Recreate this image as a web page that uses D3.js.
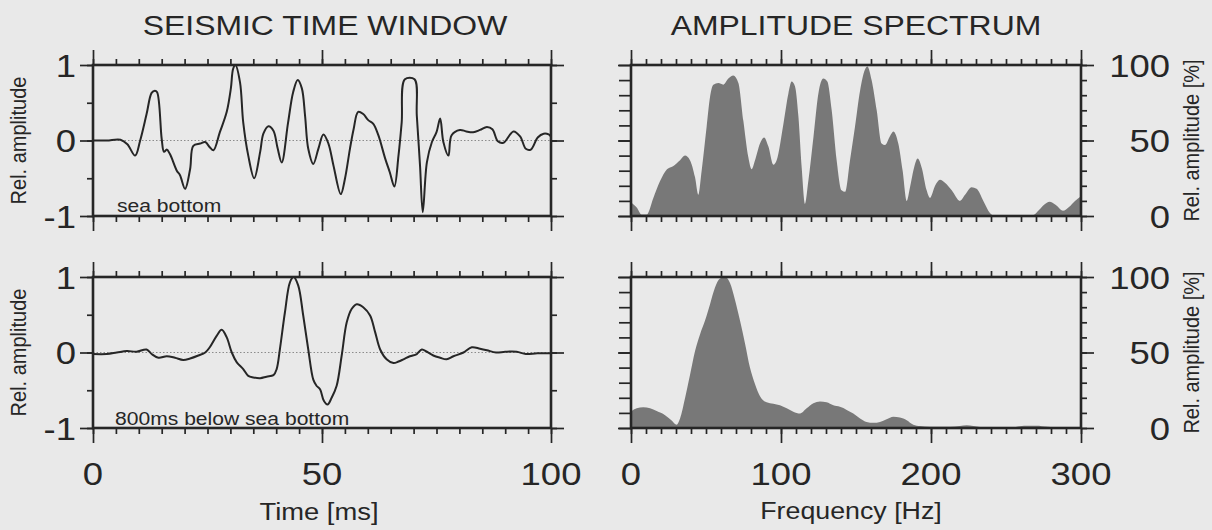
<!DOCTYPE html>
<html>
<head>
<meta charset="utf-8">
<script src="https://cdn.jsdelivr.net/npm/d3@7"></script>
<style>
  body { margin: 0; background: #e9e9e9; }
  svg { display: block; }
  text { font-family: "Liberation Sans", Arial, Helvetica, sans-serif; fill: #262626; }
</style>
</head>
<body>
<svg id="chart" width="1212" height="530"></svg>
<script>
// seismic trace at the sea bottom (time ms, relative amplitude)
const seaTime = [0, 3, 6, 7.5, 9.2, 10.3, 11.7, 12.8, 13.5, 14.0, 15.0, 15.5, 16.1, 16.8, 18.3, 19.0, 20.1, 21.2, 21.9, 23.4,
  24.5, 25.5, 26.3, 27.7, 29.2, 30.1, 30.6, 31.1, 32.1, 32.8, 33.9, 35.2, 36.5, 37.2, 38.3, 39.4, 40.3, 41.2, 42.6, 43.7,
  44.7, 45.6, 46.3, 47.0, 48.1, 49.2, 50.3, 51.4, 52.5, 54.1, 55.0, 56.1, 56.9, 57.9, 59.0, 60.1, 61.2, 62.3, 63.8, 64.8,
  65.8, 66.7, 67.4, 68.1, 70.2, 70.7, 71.4, 72.0, 72.9, 74.0, 75.0, 75.8, 76.5, 77.6, 78.3, 80.1, 81.5, 83.0, 84.5, 86.0,
  87.2, 88.4, 89.6, 91.8, 93.3, 94.5, 95.6, 97.1, 98.4, 99.5, 100];
const seaAmp = [0, 0, 0.01, -0.05, -0.2, 0, 0.35, 0.63, 0.66, 0.64, 0.02, -0.15, -0.12, -0.18, -0.4, -0.46, -0.64, -0.38, -0.07, -0.04,
  -0.02, -0.09, -0.13, 0.11, 0.38, 0.69, 0.95, 1.0, 0.77, 0.24, -0.2, -0.5, -0.15, 0.09, 0.19, 0.13, -0.1, -0.29, 0.24, 0.64,
  0.80, 0.69, 0.33, -0.11, -0.31, -0.11, 0.08, -0.04, -0.33, -0.71, -0.51, -0.11, 0.15, 0.38, 0.35, 0.27, 0.22, 0.07, -0.24, -0.42,
  -0.61, -0.2, 0.24, 0.81, 0.81, 0.33, -0.33, -0.95, -0.29, -0.02, 0.11, 0.29, -0.02, -0.2, 0.07, 0.14, 0.12, 0.11, 0.14, 0.18,
  0.15, -0.01, -0.03, 0.12, 0.05, -0.11, -0.12, 0.04, 0.09, 0.08, 0.05];

// seismic trace 800 ms below the sea bottom
const deepTime = [0, 3.0, 5.2, 7.4, 9.5, 11.7, 12.8, 14.3, 16.1, 17.9, 19.7, 21.2, 23.0, 24.5, 25.5, 27.0, 28.1, 29.2, 30.3, 31.4,
  32.8, 33.9, 35.0, 36.5, 37.9, 39.4, 40.1, 40.8, 41.9, 43.0, 43.8, 44.8, 45.9, 47.0, 48.1, 48.8, 49.6, 50.4, 51.2, 52.1,
  53.2, 54.3, 55.4, 56.5, 57.6, 59.0, 60.5, 61.6, 62.7, 64.1, 65.6, 66.7, 67.8, 69.2, 70.7, 71.8, 72.9, 74.3, 75.8, 77.2,
  78.7, 80.9, 82.7, 84.5, 86.0, 88.0, 90.0, 92.5, 94.5, 97.0, 100];
const deepAmp = [-0.02, -0.02, 0, 0.02, 0.01, 0.04, -0.02, -0.07, -0.05, -0.07, -0.10, -0.08, -0.04, 0, 0.07, 0.22, 0.30, 0.2, 0, -0.13,
  -0.22, -0.31, -0.33, -0.34, -0.32, -0.30, -0.22, 0.04, 0.53, 0.93, 1.0, 0.89, 0.49, 0.04, -0.36, -0.44, -0.49, -0.64, -0.69, -0.6,
  -0.44, -0.04, 0.4, 0.58, 0.64, 0.6, 0.49, 0.27, 0.04, -0.09, -0.14, -0.12, -0.09, -0.05, -0.02, 0.04, 0.01, -0.04, -0.07, -0.09,
  -0.05, 0, 0.07, 0.05, 0.03, 0, 0.01, 0.01, -0.02, -0.01, -0.01];

// amplitude spectrum at the sea bottom (Hz, %)
const seaFreq = [0, 3.8, 7.1, 10.4, 14.9, 19.3, 24, 28, 32.7, 36, 39.3, 42.7, 44.9, 47.1, 50.4, 52.7, 54.9, 58.2, 61.6, 64.9,
  68.2, 71.6, 74.9, 78.2, 80.4, 82.7, 86, 88.7, 91.6, 94.9, 97.1, 101.6, 104.9, 107.1, 109.3, 111.6, 113.8, 116, 118.2, 121.6,
  124.9, 128.2, 130.9, 133.8, 137.1, 140.4, 142.7, 146, 149.3, 152.7, 156, 157.6, 160.4, 163.8, 167.1, 169.3, 172.7, 174.9, 178.2, 181.1,
  183.8, 186, 188.7, 191.1, 193.8, 197.1, 199.3, 202.7, 206, 209.3, 213.8, 219.3, 222.7, 227.1, 230.4, 234.9, 239.3, 242.7, 250, 260,
  268, 272, 276, 279, 283, 288, 292, 296, 300];
const seaSpec = [9, 5.6, 1, 1, 12, 23, 31, 33, 37, 40, 37, 25.6, 14, 30, 59, 79, 87, 88, 87, 91,
  93, 88, 63, 39, 31, 37, 48, 52, 46, 34, 37, 61, 81, 89, 86, 66, 32, 8, 23, 52,
  81, 91, 89, 70, 37, 17, 16, 37, 59, 83, 97, 99, 90, 70, 48, 47, 53, 56, 48, 30,
  10, 19, 32, 38, 32, 17, 12, 20, 24, 22, 17, 10, 14, 19, 18, 10, 2, 0, 0, 0,
  0.5, 4, 8, 9.5, 7.5, 3.5, 6, 10, 13];

// amplitude spectrum 800 ms below the sea bottom
const deepFreq = [0, 3.8, 8.2, 12.7, 17.1, 22.7, 27.1, 30.4, 32.7, 36, 39.3, 42.7, 46, 49.3, 52.7, 56, 59.3, 62.7, 66, 69.3,
  72.7, 76, 79.3, 82.7, 86, 90.4, 94.9, 99.3, 103.8, 108.2, 112.7, 117.1, 121.6, 126, 130.4, 134.9, 139.3, 143.8, 148.2, 152.7,
  157.1, 161.6, 166, 170.4, 174.9, 179.3, 183.8, 188.2, 192.7, 199.3, 206, 212.7, 219.3, 223.8, 228.2, 232.7, 237, 245, 255, 262,
  270, 278, 285, 300];
const deepSpec = [11, 13, 13.7, 13, 11.2, 8.5, 5, 2.2, 6.3, 19.7, 35, 51, 62, 71, 82, 93, 99, 100, 96, 85,
  71, 56, 40, 29, 21, 17, 16, 15, 13, 10.8, 9.6, 13, 16.4, 17.5, 17, 15, 14, 12, 9.6, 6.3,
  4, 3.4, 4, 5.8, 7.4, 7, 5.2, 2.2, 1.3, 0.9, 0.9, 0.9, 1.3, 1.8, 1.3, 0.7, 0.5, 0.3, 0.5, 1.5,
  1.5, 0.8, 0.3, 0.3];

const timeLabels = [0, 50, 100];
const ampLabels = [1, 0, -1];
const freqLabels = [0, 100, 200, 300];
const pctLabels = [100, 50, 0];

const W = 1212, H = 530;
const SX = 1.14;          // the scan is stretched sideways, so is the lettering
const ink = "#262626";

const svg = d3.select("#chart");
svg.append("rect").attr("width", W).attr("height", H).attr("fill", "#e9e9e9");

const xTime = d3.scaleLinear().domain([0, 100]).range([93, 551]);
const xFreq = d3.scaleLinear().domain([0, 300]).range([631, 1081]);
const rowTop = [65, 216], rowBot = [277, 428];
const yAmpTop = d3.scaleLinear().domain([-1, 1]).range([rowTop[1], rowTop[0]]);
const yAmpBot = d3.scaleLinear().domain([-1, 1]).range([rowBot[1], rowBot[0]]);
const yPctTop = d3.scaleLinear().domain([0, 100]).range([rowTop[1], rowTop[0]]);
const yPctBot = d3.scaleLinear().domain([0, 100]).range([rowBot[1], rowBot[0]]);

function label(str, x, y, size, anchor, rotate) {
  const t = rotate
    ? `translate(${x},${y}) rotate(-90) scale(1,${SX})`
    : `translate(${x},${y}) scale(${SX},1)`;
  return svg.append("text")
    .attr("transform", t)
    .attr("text-anchor", anchor || "middle")
    .attr("font-size", size)
    .text(str);
}

function tickRow(axisFn, scale, values, size, tr) {
  const g = svg.append("g").attr("transform", tr)
    .call(axisFn(scale).tickValues(values).tickSize(size).tickSizeOuter(0).tickFormat(""));
  g.select(".domain").remove();
  g.selectAll("line").attr("stroke", ink).attr("stroke-width", 1.7);
}

function frame(x, y, xMinor, xMajor, yMinor, yMajor, leftMinor) {
  const [x0, x1] = x.range();
  const y0 = y.range()[1], y1 = y.range()[0];
  tickRow(d3.axisTop, x, xMinor, 6, `translate(0,${y0})`);
  tickRow(d3.axisTop, x, xMajor, 15, `translate(0,${y0})`);
  tickRow(d3.axisBottom, x, xMinor, 6, `translate(0,${y1})`);
  tickRow(d3.axisBottom, x, xMajor, 15, `translate(0,${y1})`);
  tickRow(d3.axisLeft, y, yMinor, leftMinor, `translate(${x0},0)`);
  tickRow(d3.axisLeft, y, yMajor, 13, `translate(${x0},0)`);
  tickRow(d3.axisRight, y, yMinor, 6, `translate(${x1},0)`);
  tickRow(d3.axisRight, y, yMajor, 13, `translate(${x1},0)`);
  svg.append("rect")
    .attr("x", x0).attr("y", y0).attr("width", x1 - x0).attr("height", y1 - y0)
    .attr("fill", "none").attr("stroke", ink).attr("stroke-width", 2.6);
}

// time windows
[[yAmpTop, seaTime, seaAmp], [yAmpBot, deepTime, deepAmp]].forEach(([y, t, a]) => {
  svg.append("line")
    .attr("x1", xTime(0)).attr("x2", xTime(100)).attr("y1", y(0)).attr("y2", y(0))
    .attr("stroke", "#8c8c8c").attr("stroke-width", 1).attr("stroke-dasharray", "1.5,2");
  const line = d3.line().x(d => xTime(d[0])).y(d => y(d[1])).curve(d3.curveCatmullRom.alpha(0.5));
  svg.append("path").datum(d3.zip(t, a))
    .attr("d", line)
    .attr("fill", "none").attr("stroke", ink).attr("stroke-width", 2)
    .attr("stroke-linejoin", "round");
  frame(xTime, y, xTime.ticks(20), timeLabels, y.ticks(4), ampLabels, 6);
  ampLabels.forEach(v => label(v === -1 ? "-1" : String(v), 76, y(v), 32, "end").attr("dy", "0.36em"));
  label("Rel. amplitude", 26, (y.range()[0] + y.range()[1]) / 2, 20, "middle", true);
});

// spectra
[[yPctTop, seaFreq, seaSpec], [yPctBot, deepFreq, deepSpec]].forEach(([y, f, a]) => {
  const area = d3.area().x(d => xFreq(d[0])).y0(y(0)).y1(d => y(d[1])).curve(d3.curveMonotoneX);
  svg.append("path").datum(d3.zip(f, a))
    .attr("d", area)
    .attr("fill", "#787878");
  frame(xFreq, y, xFreq.ticks(30), freqLabels, y.ticks(10), pctLabels, 12);
  pctLabels.forEach(v => label(String(v), 1170, y(v), 32, "end").attr("dy", "0.36em"));
  label("Rel. amplitude [%]", 1199, (y.range()[0] + y.range()[1]) / 2, 20, "middle", true);
});

timeLabels.forEach(v => label(String(v), xTime(v), 485, 32));
freqLabels.forEach(v => label(String(v), xFreq(v), 485, 32));

label("SEISMIC TIME WINDOW", 325, 35, 28);
label("AMPLITUDE SPECTRUM", 856, 35, 28);
label("sea bottom", 117, 212, 18.5, "start");
label("800ms below sea bottom", 115, 425, 18.5, "start");
label("Time [ms]", 319, 520, 24);
label("Frequency [Hz]", 851, 519, 23.5);
</script>
</body>
</html>
